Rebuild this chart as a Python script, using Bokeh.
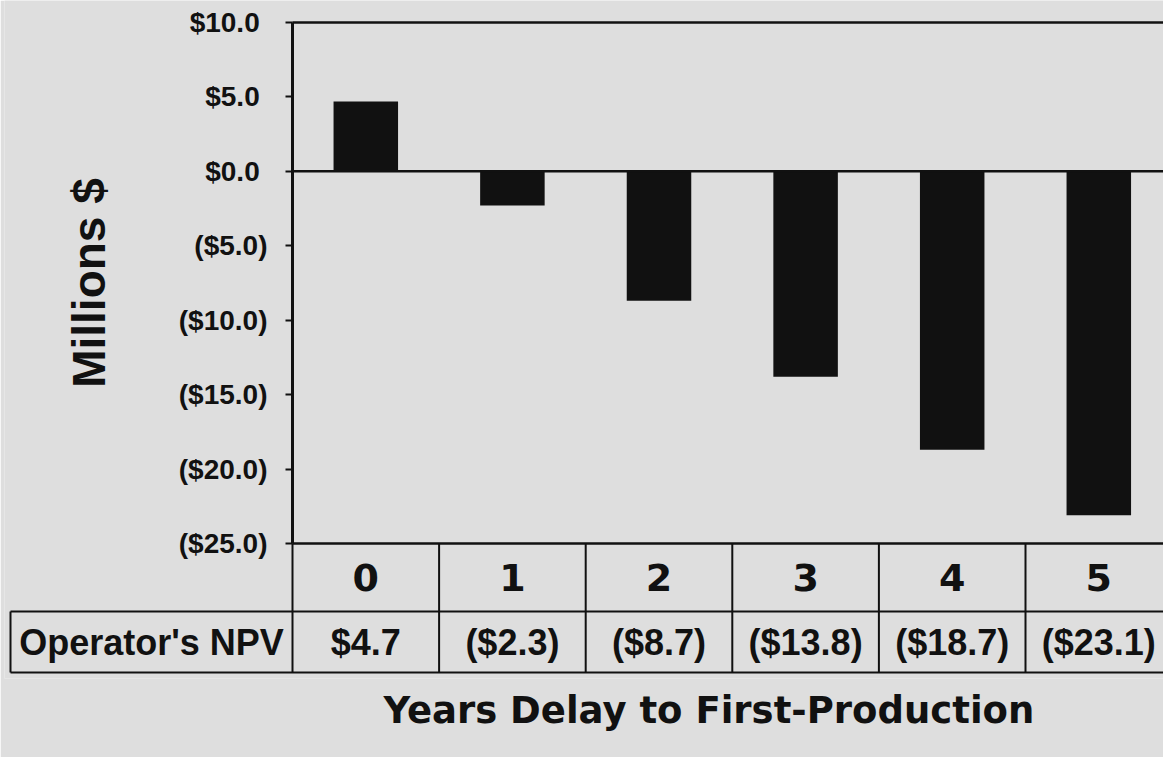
from bokeh.plotting import figure
from bokeh.models import Range1d, FixedTicker, LinearAxis, Title
from bokeh.embed import file_html
from bokeh.resources import INLINE
from bokeh.core.properties import value

# ---------------- data ----------------
categories = ["0", "1", "2", "3", "4", "5"]
npv = [4.7, -2.3, -8.7, -13.8, -18.7, -23.1]
npv_labels = ["$4.7", "($2.3)", "($8.7)", "($13.8)", "($18.7)", "($23.1)"]
row_label = "Operator's NPV"
y_ticks = [-25, -20, -15, -10, -5, 0, 5, 10]
y_tick_labels = ["($25.0)", "($20.0)", "($15.0)", "($10.0)", "($5.0)",
                 "$0.0\u00a0", "$5.0\u00a0", "$10.0\u00a0"]
y_title = "Millions $"
x_title = "Years Delay to First-Production"

# ---------------- style / layout (pixels) ----------------
BG = "#dedede"
INK = "#111111"
W, H = 1163, 757
FRAME_L, FRAME_R, FRAME_T, FRAME_B = 4, 1163, 0, 678
PLOT_L = 292          # x pixel of the chart's left edge (category -0.5)
PLOT_T = 22           # y pixel of the chart top
PLOT_B = 543          # y pixel of the chart bottom
COL = 146.6           # pixel width of one category column
CELL_L = 10           # left edge of the row-label cell
ROW1 = 68             # category row height
ROW2 = 61             # value row height

ylo, yhi = y_ticks[0], y_ticks[-1]
S = (PLOT_B - PLOT_T) / (yhi - ylo)
pos = list(range(len(categories)))
bounds = [i - 0.5 for i in range(len(categories) + 1)]
x0 = bounds[0]


def px_x(px):
    return x0 + (px - PLOT_L) / COL


def px_y(py):
    return yhi - (py - PLOT_T) / S


x_start, x_end = px_x(FRAME_L), px_x(FRAME_R)
y_start, y_end = px_y(FRAME_B), px_y(FRAME_T)
x_cell = px_x(CELL_L)
y_row = px_y(PLOT_B + ROW1)
y_bot = px_y(PLOT_B + ROW1 + ROW2)

p = figure(width=W, height=H, x_range=Range1d(x_start, x_end),
           y_range=Range1d(y_start, y_end),
           x_axis_type=None, y_axis_type=None,
           output_backend="svg", toolbar_location=None,
           min_border_left=FRAME_L, min_border_right=W - FRAME_R,
           min_border_top=FRAME_T, min_border_bottom=H - FRAME_B)
p.background_fill_color = BG
p.border_fill_color = BG
p.outline_line_color = None

# y axis at the chart's left edge
ya = LinearAxis(ticker=FixedTicker(ticks=y_ticks),
                major_label_overrides=dict(zip(y_ticks, y_tick_labels)),
                axis_label=y_title, fixed_location=x0, bounds=(ylo, yhi))
ya.axis_line_color = INK
ya.axis_line_width = 3
ya.major_tick_line_color = INK
ya.major_tick_line_width = 2
ya.major_tick_out = 7
ya.major_tick_in = 0
ya.minor_tick_line_color = None
ya.major_label_standoff = 18
ya.major_label_text_font = "Liberation Sans"
ya.major_label_text_font_style = "bold"
ya.major_label_text_font_size = "28px"
ya.major_label_text_color = INK
ya.axis_label_text_font = "Liberation Sans"
ya.axis_label_text_font_style = "bold"
ya.axis_label_text_font_size = "46px"
ya.axis_label_text_color = INK
ya.axis_label_standoff = 61
p.add_layout(ya, "left")

# bars
p.vbar(x=pos, top=npv, bottom=0, width=0.44, fill_color=INK, line_color=None)

# chart frame lines (top, zero line, bottom)
p.segment(x0=[x0, x0, x0], y0=[yhi, 0, ylo], x1=[x_end] * 3, y1=[yhi, 0, ylo],
          line_color=INK, line_width=2.5)

# table lines
p.segment(x0=[x_cell, x_cell], y0=[y_row, y_bot], x1=[x_end, x_end], y1=[y_row, y_bot],
          line_color=INK, line_width=2)
p.segment(x0=bounds, y0=[ylo] * len(bounds), x1=bounds, y1=[y_bot] * len(bounds),
          line_color=INK, line_width=2)
p.segment(x0=[x_cell], y0=[y_row], x1=[x_cell], y1=[y_bot],
          line_color=INK, line_width=2)

# table texts
y_mid1 = 0.5 * (ylo + y_row)
y_mid2 = 0.5 * (y_row + y_bot)
p.text(x=pos, y=[y_mid1] * len(pos), text=categories,
       text_font=value("DejaVu Sans"), text_font_style="bold",
       text_font_size="38px", text_color=INK,
       text_align="center", text_baseline="middle")
p.text(x=pos, y=[y_mid2] * len(pos), text=npv_labels,
       text_font=value("Liberation Sans"), text_font_style="bold",
       text_font_size="36px", text_color=INK,
       text_align="center", text_baseline="middle")
p.text(x=[0.5 * (x_cell + x0)], y=[y_mid2], text=[row_label],
       text_font=value("Liberation Sans"), text_font_style="bold",
       text_font_size="36px", text_color=INK,
       text_align="center", text_baseline="middle")

# x title
p.add_layout(Title(text=x_title, align="left", offset=379, standoff=17,
                   text_font="DejaVu Sans", text_font_style="bold",
                   text_font_size="37px", text_color=INK), "below")

html = file_html(p, INLINE)
html = html.replace("<body>", '<body style="background-color:%s;">' % BG, 1)
open("out.html", "w").write(html)
